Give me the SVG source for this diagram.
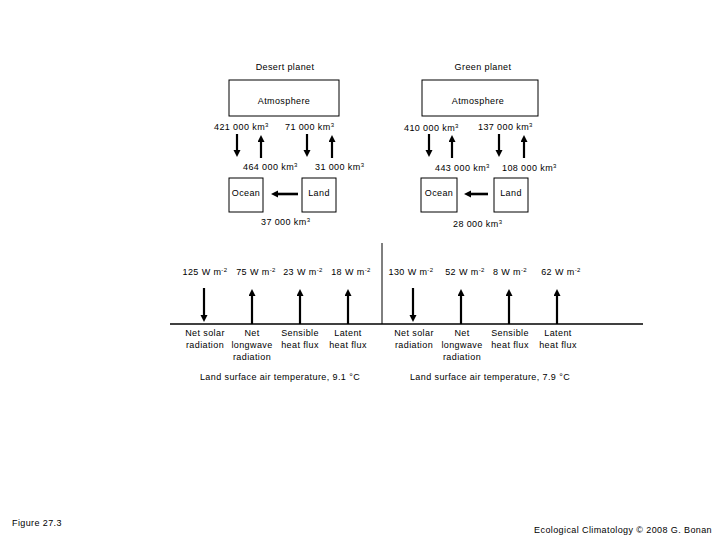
<svg xmlns="http://www.w3.org/2000/svg" width="720" height="540" viewBox="0 0 720 540">
<style>
text{font-family:"Liberation Sans",Arial,sans-serif;font-size:9px;fill:#000;letter-spacing:0.4px}
.c{text-anchor:middle}
.box{fill:#fff;stroke:#000;stroke-width:1}
.ar{stroke:#000;stroke-width:2.2;fill:none;marker-end:url(#ah)}
.arh{stroke:#000;stroke-width:2.6;fill:none;marker-end:url(#ah)}
.sup{font-size:6px}
</style>
<defs>
<marker id="ah" markerUnits="userSpaceOnUse" markerWidth="8" markerHeight="8" refX="1" refY="3.5" orient="auto">
<path d="M0,0 L7,3.5 L0,7 z" fill="#000"/>
</marker>
</defs>
<rect width="720" height="540" fill="#fff"/>

<text class="c" x="285" y="70">Desert planet</text>
<text class="c" x="483" y="70">Green planet</text>

<g id="desert-atmosphere"><rect class="box" x="229" y="80" width="110" height="36"/><text class="c" x="284" y="104">Atmosphere</text></g>
<g id="desert-ocean"><rect class="box" x="229" y="178" width="34" height="34"/><text class="c" x="246" y="196">Ocean</text></g>
<g id="desert-land"><rect class="box" x="302" y="178" width="34" height="34"/><text class="c" x="319" y="196">Land</text></g>

<g id="green-atmosphere"><rect class="box" x="422" y="80" width="116" height="36"/><text class="c" x="478" y="104">Atmosphere</text></g>
<g id="green-ocean"><rect class="box" x="421" y="178" width="36" height="34"/><text class="c" x="439" y="196">Ocean</text></g>
<g id="green-land"><rect class="box" x="494" y="178" width="34" height="34"/><text class="c" x="511" y="196">Land</text></g>

<g id="connectors">
<line class="ar" x1="237" y1="134" x2="237" y2="151"/>
<line class="ar" x1="261" y1="158" x2="261" y2="141"/>
<line class="ar" x1="307" y1="134" x2="307" y2="151"/>
<line class="ar" x1="332" y1="158" x2="332" y2="141"/>
<line class="arh" x1="298" y1="194" x2="277" y2="194"/>

<line class="ar" x1="429" y1="134" x2="429" y2="151"/>
<line class="ar" x1="452" y1="158" x2="452" y2="141"/>
<line class="ar" x1="499" y1="134" x2="499" y2="151"/>
<line class="ar" x1="524" y1="158" x2="524" y2="141"/>
<line class="arh" x1="488" y1="194" x2="470" y2="194"/>

<line class="ar" x1="204" y1="288" x2="204" y2="316"/>
<line class="ar" x1="252" y1="324" x2="252" y2="295"/>
<line class="ar" x1="300" y1="324" x2="300" y2="295"/>
<line class="ar" x1="348" y1="324" x2="348" y2="295"/>

<line class="ar" x1="413" y1="288" x2="413" y2="316"/>
<line class="ar" x1="461" y1="324" x2="461" y2="295"/>
<line class="ar" x1="509" y1="324" x2="509" y2="295"/>
<line class="ar" x1="557" y1="324" x2="557" y2="295"/>
</g>

<g id="ground">
<line x1="170" y1="324" x2="643" y2="324" stroke="#000" stroke-width="1.5"/>
<line x1="382" y1="243" x2="382" y2="324" stroke="#000" stroke-width="1"/>
</g>

<g id="flux-labels">
<text x="214" y="130">421 000 km<tspan class="sup" dy="-3">3</tspan></text>
<text x="285" y="130">71 000 km<tspan class="sup" dy="-3">3</tspan></text>
<text x="243" y="170">464 000 km<tspan class="sup" dy="-3">3</tspan></text>
<text x="315" y="170">31 000 km<tspan class="sup" dy="-3">3</tspan></text>
<text x="261" y="225">37 000 km<tspan class="sup" dy="-3">3</tspan></text>

<text x="404" y="131">410 000 km<tspan class="sup" dy="-3">3</tspan></text>
<text x="478" y="130">137 000 km<tspan class="sup" dy="-3">3</tspan></text>
<text x="435" y="171">443 000 km<tspan class="sup" dy="-3">3</tspan></text>
<text x="502" y="171">108 000 km<tspan class="sup" dy="-3">3</tspan></text>
<text x="453" y="227">28 000 km<tspan class="sup" dy="-3">3</tspan></text>
</g>

<g id="energy-labels">
<text class="c" x="205" y="275">125 W m<tspan class="sup" dy="-3">-2</tspan></text>
<text class="c" x="256" y="275">75 W m<tspan class="sup" dy="-3">-2</tspan></text>
<text class="c" x="303" y="275">23 W m<tspan class="sup" dy="-3">-2</tspan></text>
<text class="c" x="351" y="275">18 W m<tspan class="sup" dy="-3">-2</tspan></text>

<text class="c" x="411" y="275">130 W m<tspan class="sup" dy="-3">-2</tspan></text>
<text class="c" x="465" y="275">52 W m<tspan class="sup" dy="-3">-2</tspan></text>
<text class="c" x="510" y="275">8 W m<tspan class="sup" dy="-3">-2</tspan></text>
<text class="c" x="561" y="275">62 W m<tspan class="sup" dy="-3">-2</tspan></text>

<text class="c" x="205" y="336">Net solar</text>
<text class="c" x="205" y="348">radiation</text>
<text class="c" x="252" y="336">Net</text>
<text class="c" x="252" y="348">longwave</text>
<text class="c" x="252" y="360">radiation</text>
<text class="c" x="300" y="336">Sensible</text>
<text class="c" x="300" y="348">heat flux</text>
<text class="c" x="348" y="336">Latent</text>
<text class="c" x="348" y="348">heat flux</text>
<text class="c" x="280" y="380">Land surface air temperature, 9.1 °C</text>

<text class="c" x="414" y="336">Net solar</text>
<text class="c" x="414" y="348">radiation</text>
<text class="c" x="462" y="336">Net</text>
<text class="c" x="462" y="348">longwave</text>
<text class="c" x="462" y="360">radiation</text>
<text class="c" x="510" y="336">Sensible</text>
<text class="c" x="510" y="348">heat flux</text>
<text class="c" x="558" y="336">Latent</text>
<text class="c" x="558" y="348">heat flux</text>
<text class="c" x="490" y="380">Land surface air temperature, 7.9 °C</text>
</g>

<text x="12" y="526">Figure 27.3</text>
<text x="712" y="533" text-anchor="end">Ecological Climatology © 2008 G. Bonan</text>
</svg>
